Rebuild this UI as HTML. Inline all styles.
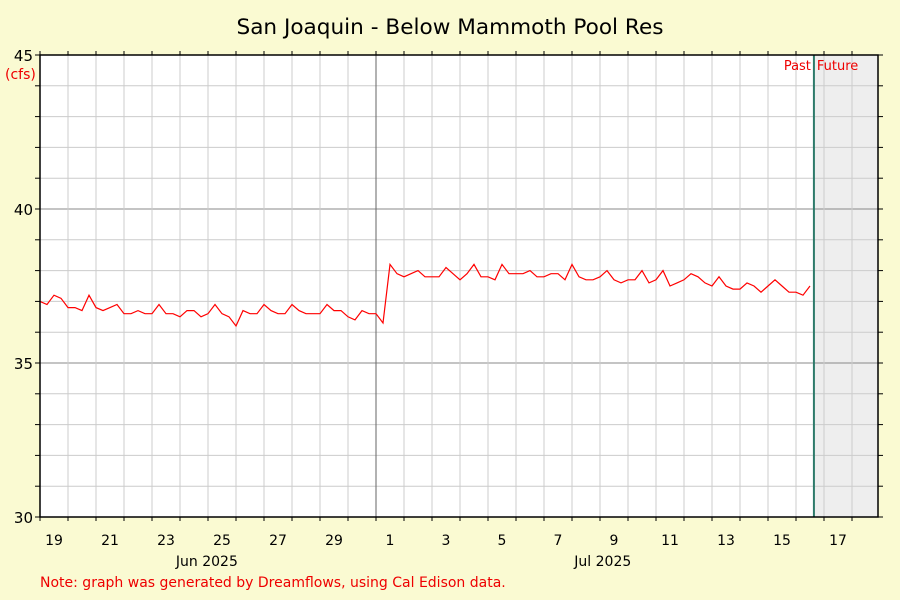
<!DOCTYPE html>
<html><head><meta charset="utf-8"><style>
body{margin:0;background:#fafad2;}
svg{display:block;font-family:"DejaVu Sans","Liberation Sans",sans-serif;}
</style></head><body>
<svg width="900" height="600" id="c">
<rect width="900" height="600" fill="#fafad2"/>
<text x="450" y="34" text-anchor="middle" font-size="21.6" fill="#000">San Joaquin - Below Mammoth Pool Res</text>
<rect x="40" y="55" width="838" height="462" fill="#fff"/>
<g id="grid"></g>
<g id="marks"></g>
<g id="axes"></g>
<text x="5" y="79" font-size="14" fill="#e00">(cfs)</text>
<text x="40" y="587" font-size="14" fill="#e00">Note: graph was generated by Dreamflows, using Cal Edison data.</text>
</svg>
<script>
const series = [
37.0,36.9,37.2,37.1, 36.8,36.8,36.7,37.2, 36.8,36.7,36.8,36.9, 36.6,36.6,36.7,36.6,
36.6,36.9,36.6,36.6, 36.5,36.7,36.7,36.5, 36.6,36.9,36.6,36.5, 36.2,36.7,36.6,36.6,
36.9,36.7,36.6,36.6, 36.9,36.7,36.6,36.6, 36.6,36.9,36.7,36.7, 36.5,36.4,36.7,36.6,
36.6,36.3,38.2,37.9, 37.8,37.9,38.0,37.8, 37.8,37.8,38.1,37.9, 37.7,37.9,38.2,37.8,
37.8,37.7,38.2,37.9, 37.9,37.9,38.0,37.8, 37.8,37.9,37.9,37.7, 38.2,37.8,37.7,37.7,
37.8,38.0,37.7,37.6, 37.7,37.7,38.0,37.6, 37.7,38.0,37.5,37.6, 37.7,37.9,37.8,37.6,
37.5,37.8,37.5,37.4, 37.4,37.6,37.5,37.3, 37.5,37.7,37.5,37.3, 37.3,37.2,37.5];
const hoursPerPoint = 6;
const yTicks = [30,35,40,45];
const dayLabels = ["19","21","23","25","27","29","1","3","5","7","9","11","13","15","17"];
const dayLabelOffsets = [0,2,4,6,8,10,12,14,16,18,20,22,24,26,28];
const monthLabels = ["Jun 2025","Jul 2025"];
const monthLabelDays = [5.96,20.1];
const nowDay = 27.64;

const X0=40,X1=878,Y0=517,Y1=55,PX_DAY=28;
const x=d=>X0+d*PX_DAY;
const y=v=>Y0-(v-30)*(Y0-Y1)/15;
const NS="http://www.w3.org/2000/svg";
function mk(t,a,p){const e=document.createElementNS(NS,t);for(const k in a)e.setAttribute(k,a[k]);p.appendChild(e);return e;}
const grid=document.getElementById('grid'),marks=document.getElementById('marks'),axes=document.getElementById('axes');
let sh=mk('rect',{x:x(nowDay),y:Y1,width:X1-x(nowDay),height:Y0-Y1,fill:'#eeeeee'},grid);


for(let v=30;v<=45;v++){
  const major=v%5===0;
  let l=mk('line',{x1:X0,x2:X1,y1:y(v),y2:y(v),stroke:major?'#888':'#ccc','stroke-width':1},grid);
  
  
  mk('line',{x1:X0-5,x2:X0,y1:y(v),y2:y(v),stroke:'#000'},axes);
  mk('line',{x1:X1,x2:X1+5,y1:y(v),y2:y(v),stroke:'#000'},axes);
}
for(let d=1;d<=29;d++){
  let l=mk('line',{x1:x(d),x2:x(d),y1:Y1,y2:Y0,stroke:d===12?'#666':'#ccc','stroke-width':1},grid);
  
  
}
for(let d=0;d<=29;d++){
  mk('line',{x1:x(d),x2:x(d),y1:Y1-4,y2:Y1,stroke:'#000'},axes);
  mk('line',{x1:x(d),x2:x(d),y1:Y0,y2:Y0+4,stroke:'#000'},axes);
}
let pts=series.map((v,i)=>x(i*hoursPerPoint/24).toFixed(1)+','+y(v).toFixed(1)).join(' ');
let pl=mk('polyline',{points:pts,fill:'none',stroke:'#ff0000','stroke-width':1.2},marks);


let nl=mk('line',{x1:x(nowDay),x2:x(nowDay),y1:Y1,y2:Y0,stroke:'#2e7a6a','stroke-width':2},marks);


let t1=mk('text',{x:x(nowDay)-3,y:70,'text-anchor':'end','font-size':13,fill:'#e00'},marks);t1.textContent='Past';


let t2=mk('text',{x:x(nowDay)+3,y:70,'font-size':13,fill:'#e00'},marks);t2.textContent='Future';


let fr=mk('rect',{x:X0,y:Y1,width:X1-X0,height:Y0-Y1,fill:'none',stroke:'#000','stroke-width':1.5},axes);


yTicks.forEach(v=>{
  let t=mk('text',{x:X0-7,y:y(v)+6,'text-anchor':'end','font-size':15,fill:'#000'},axes);t.textContent=v;
  
  
});
dayLabels.forEach((s,i)=>{
  let t=mk('text',{x:x(dayLabelOffsets[i]+0.5),y:545,'text-anchor':'middle','font-size':14,fill:'#000'},axes);t.textContent=s;
  
  
});
monthLabels.forEach((s,i)=>{
  let t=mk('text',{x:x(monthLabelDays[i]),y:566,'text-anchor':'middle','font-size':14,fill:'#000'},axes);t.textContent=s;
  
  
});
</script>
</body></html>
